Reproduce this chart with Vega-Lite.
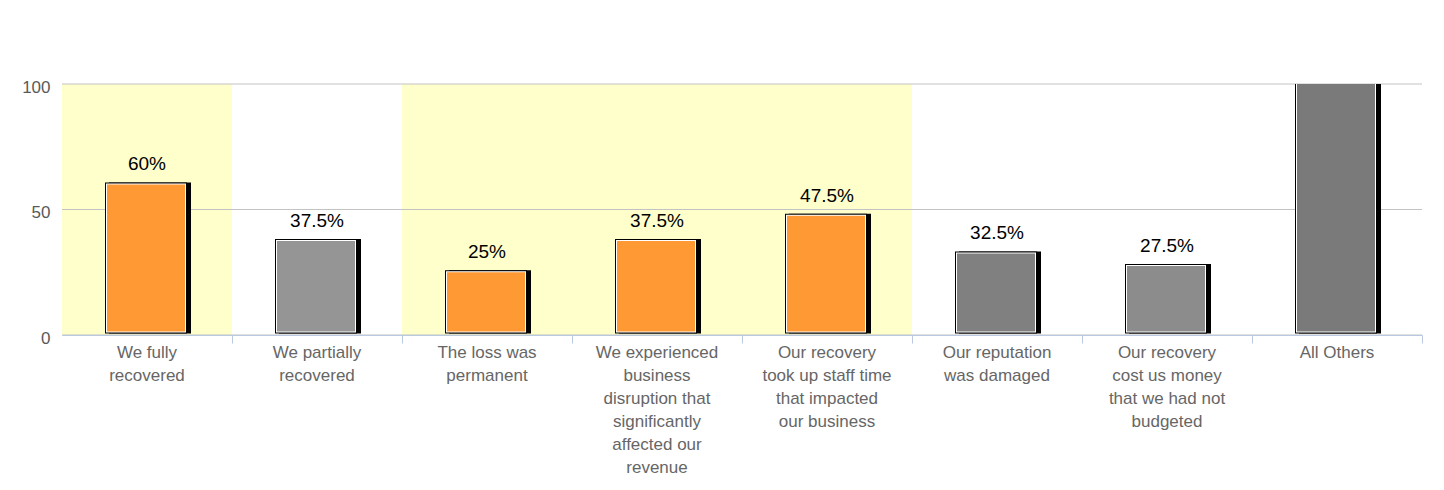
{
  "$schema": "https://vega.github.io/schema/vega-lite/v6.json",
  "width": 1360,
  "height": 251,
  "autosize": {"type": "none"},
  "padding": {"left": 62, "top": 84, "right": 22, "bottom": 155},
  "background": "white",
  "config": {
    "view": {"stroke": null},
    "font": "Liberation Sans",
    "axisY": {"domain": false, "ticks": false, "grid": false, "tickCount": 3, "labelFontSize": 17, "labelColor": "#595959", "labelPadding": 12, "labelOffset": 3, "labelFont": "Liberation Sans"}
  },
  "datasets": {
    "answers": [
      {"category": "We fully\nrecovered", "value": 60, "label": "60%", "group": "highlighted"},
      {"category": "We partially\nrecovered", "value": 37.5, "label": "37.5%", "group": "other"},
      {"category": "The loss was\npermanent", "value": 25, "label": "25%", "group": "highlighted"},
      {"category": "We experienced\nbusiness\ndisruption that\nsignificantly\naffected our\nrevenue", "value": 37.5, "label": "37.5%", "group": "highlighted"},
      {"category": "Our recovery\ntook up staff time\nthat impacted\nour business", "value": 47.5, "label": "47.5%", "group": "highlighted"},
      {"category": "Our reputation\nwas damaged", "value": 32.5, "label": "32.5%", "group": "other"},
      {"category": "Our recovery\ncost us money\nthat we had not\nbudgeted", "value": 27.5, "label": "27.5%", "group": "other"},
      {"category": "All Others", "value": 100, "label": "", "group": "other"}
    ],
    "grid": [{"tick": 0}, {"tick": 50}, {"tick": 100}]
  },
  "layer": [
    {
      "data": {"name": "answers"},
      "transform": [{"filter": "datum.group === 'highlighted'"}],
      "mark": {"type": "bar", "color": "#ffffcc"},
      "encoding": {
        "x": {"field": "category", "type": "nominal", "sort": null, "title": null,
          "scale": {"paddingInner": 0, "paddingOuter": 0, "domain": ["We fully\nrecovered", "We partially\nrecovered", "The loss was\npermanent", "We experienced\nbusiness\ndisruption that\nsignificantly\naffected our\nrevenue", "Our recovery\ntook up staff time\nthat impacted\nour business", "Our reputation\nwas damaged", "Our recovery\ncost us money\nthat we had not\nbudgeted", "All Others"]},
          "axis": {"title": null, "labelAngle": 0, "bandPosition": 1, "tickSize": 8, "tickColor": "#b9c9df", "domainColor": "#b9c9df", "labelColor": "#666666", "labelFontSize": 17, "labelFont": "Liberation Sans", "labelLineHeight": 23, "labelBaseline": "top", "labelPadding": 1, "labelLimit": 0, "labelOverlap": false, "labelExpr": "split(datum.label, '\\n')", "zindex": 1, "grid": false}},
        "y": {"datum": 100, "type": "quantitative", "title": null, "scale": {"domain": [0, 100]}},
        "y2": {"datum": 0}
      }
    },
    {
      "data": {"name": "grid"},
      "mark": {"type": "rule", "color": "#c3c3c3", "strokeWidth": 1},
      "encoding": {
        "y": {"field": "tick", "type": "quantitative", "title": null, "scale": {"domain": [0, 100]}}
      }
    },
    {
      "data": {"name": "answers"},
      "encoding": {
        "x": {"field": "category", "type": "nominal", "sort": null, "title": null,
          "scale": {"paddingInner": 0, "paddingOuter": 0, "domain": ["We fully\nrecovered", "We partially\nrecovered", "The loss was\npermanent", "We experienced\nbusiness\ndisruption that\nsignificantly\naffected our\nrevenue", "Our recovery\ntook up staff time\nthat impacted\nour business", "Our reputation\nwas damaged", "Our recovery\ncost us money\nthat we had not\nbudgeted", "All Others"]},
          "axis": {"title": null, "labelAngle": 0, "bandPosition": 1, "tickSize": 8, "tickColor": "#b9c9df", "domainColor": "#b9c9df", "labelColor": "#666666", "labelFontSize": 17, "labelFont": "Liberation Sans", "labelLineHeight": 23, "labelBaseline": "top", "labelPadding": 1, "labelLimit": 0, "labelOverlap": false, "labelExpr": "split(datum.label, '\\n')", "zindex": 1, "grid": false}},
        "y": {"field": "value", "type": "quantitative", "title": null, "scale": {"domain": [0, 100]}}
      },
      "layer": [
        {
          "mark": {"type": "bar", "color": "black", "width": 82, "xOffset": 3, "yOffset": -2, "y2Offset": -1.5, "clip": true},
          "encoding": {"y2": {"datum": 0}}
        },
        {
          "mark": {"type": "bar", "color": "black", "width": 82, "xOffset": -1, "yOffset": -2, "y2Offset": -1.5, "clip": true},
          "encoding": {"y2": {"datum": 0}}
        },
        {
          "mark": {"type": "bar", "color": "white", "width": 80, "xOffset": -1, "yOffset": -1, "y2Offset": -2.5, "clip": true},
          "encoding": {"y2": {"datum": 0}}
        },
        {
          "mark": {"type": "bar", "width": 78, "xOffset": -1, "yOffset": 0, "y2Offset": -3.5, "clip": true},
          "encoding": {
            "y2": {"datum": 0},
            "color": {"field": "category", "type": "nominal", "legend": null,
              "scale": {
                "domain": ["We fully\nrecovered", "We partially\nrecovered", "The loss was\npermanent", "We experienced\nbusiness\ndisruption that\nsignificantly\naffected our\nrevenue", "Our recovery\ntook up staff time\nthat impacted\nour business", "Our reputation\nwas damaged", "Our recovery\ncost us money\nthat we had not\nbudgeted", "All Others"],
                "range": ["#ff9933", "#959595", "#ff9933", "#ff9933", "#ff9933", "#808080", "#8c8c8c", "#7a7a7a"]
              }}
          }
        },
        {
          "mark": {"type": "text", "dy": -14, "baseline": "alphabetic", "fontSize": 19, "color": "black", "font": "Liberation Sans"},
          "encoding": {"text": {"field": "label", "type": "nominal"}}
        }
      ]
    }
  ]
}
